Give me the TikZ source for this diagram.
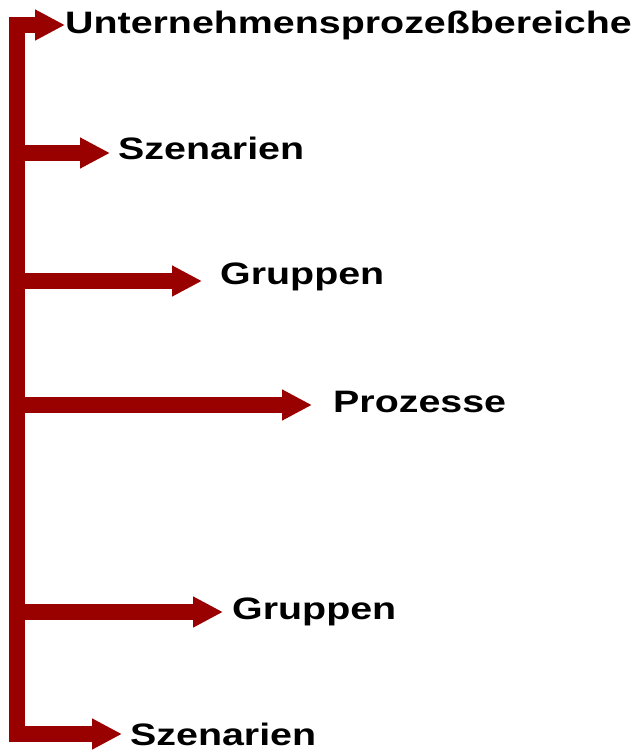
\documentclass[tikz,border=0pt]{standalone}
\usepackage{fontspec}
\usepackage{graphicx}
\setsansfont{Liberation Sans}
\usetikzlibrary{arrows.meta,positioning}
\definecolor{lvred}{RGB}{153,0,0}
\newcommand{\lvwide}[1]{\scalebox{1.27}[1]{#1}}
\tikzset{
  stem/.style={draw=lvred, line width=16pt},
  lvarr/.style={stem, -{Triangle[length=30pt,width=29pt]}},
  lvtxt/.style={inner sep=0pt, anchor=base west,
    font=\fontsize{31}{37}\selectfont\sffamily\bfseries}
}

\begin{document}
\begin{tikzpicture}[x=1pt, y=1pt]
  \useasboundingbox (0,0) rectangle (635,-751);
  % vertical bar
  \coordinate (top) at (17,-17);
  \coordinate (bot) at (17,-742);
  \draw[stem] (top) -- (bot);
  % branch points on the bar
  \coordinate (b1) at (9,-25);
  \coordinate (b2) at (9,-153);
  \coordinate (b3) at (9,-281);
  \coordinate (b4) at (9,-405);
  \coordinate (b5) at (9,-612);
  \coordinate (b6) at (9,-734);
  % arrow tips
  \coordinate (t1) at (65,-25);
  \coordinate (t2) at (110,-153);
  \coordinate (t3) at (202,-281);
  \coordinate (t4) at (312,-405);
  \coordinate (t5) at (223,-612);
  \coordinate (t6) at (122,-734);
  \draw[lvarr] (b1) -- (t1);
  \draw[lvarr] (b2) -- (t2);
  \draw[lvarr] (b3) -- (t3);
  \draw[lvarr] (b4) -- (t4);
  \draw[lvarr] (b5) -- (t5);
  \draw[lvarr] (b6) -- (t6);
  % labels
  \node[lvtxt] (l1) at (65,-34) {\lvwide{Unternehmensprozeßbereiche}};
  \node[lvtxt] (l2) at (118,-160) {\lvwide{Szenarien}};
  \node[lvtxt] (l3) at (220,-284) {\lvwide{Gruppen}};
  \node[lvtxt] (l4) at (333,-412) {\lvwide{Prozesse}};
  \node[lvtxt] (l5) at (232,-619) {\lvwide{Gruppen}};
  \node[lvtxt] (l6) at (130,-745) {\lvwide{Szenarien}};
\end{tikzpicture}
\end{document}
